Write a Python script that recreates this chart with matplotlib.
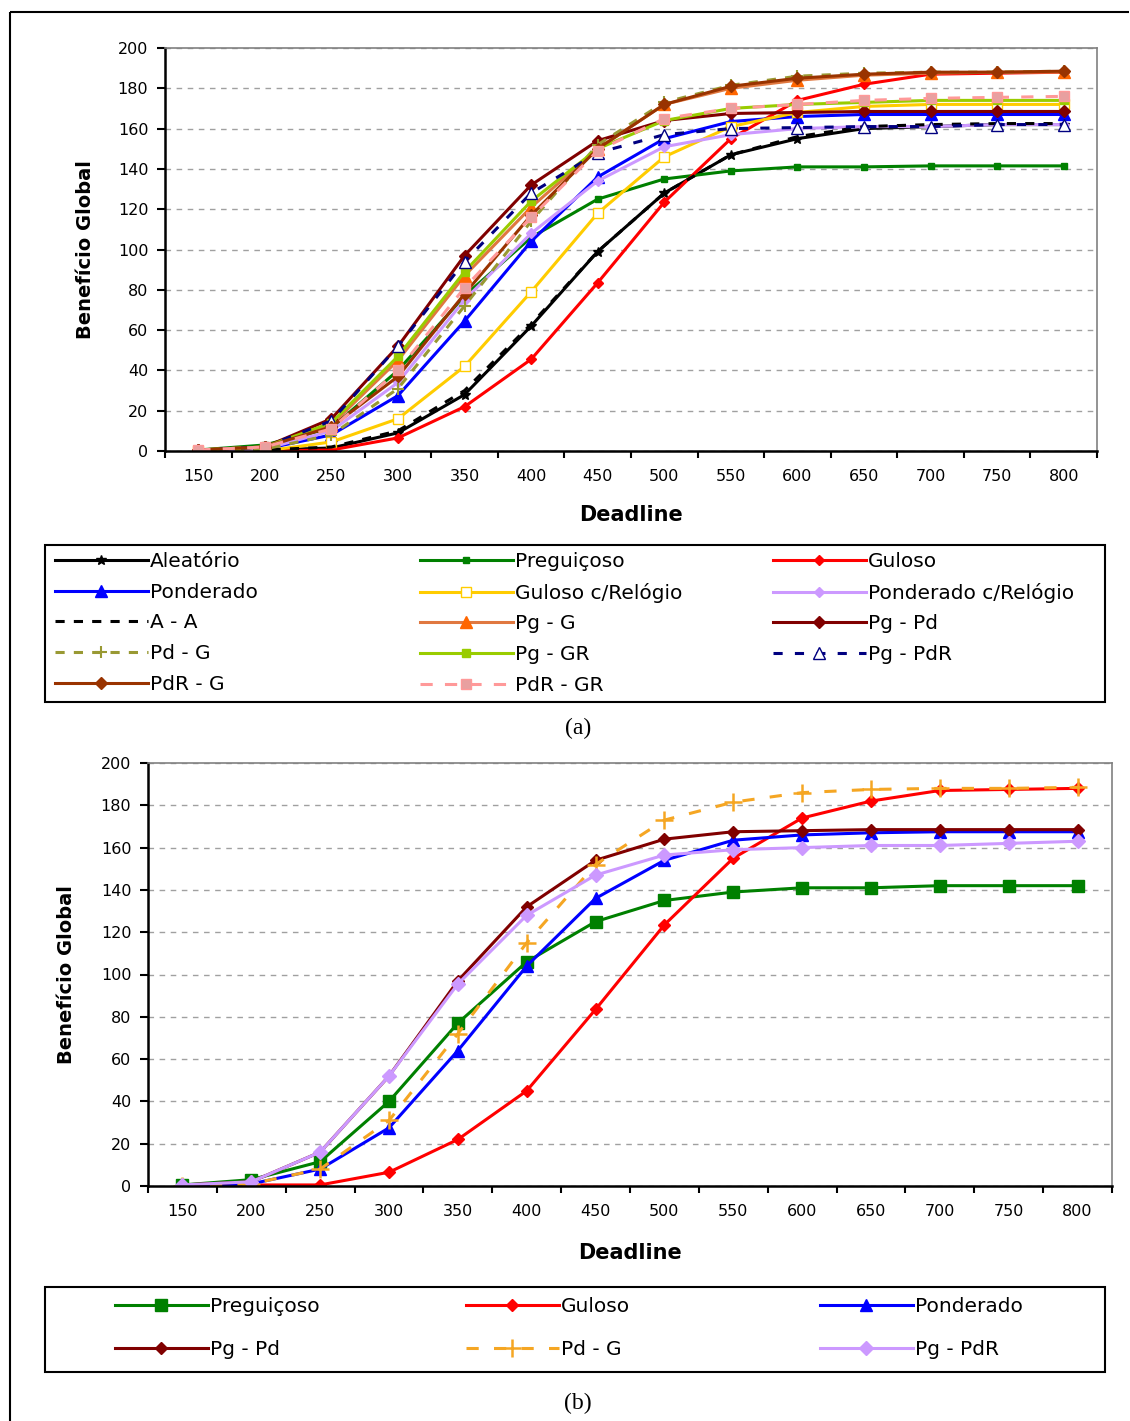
import matplotlib
matplotlib.use("Agg")
import matplotlib.pyplot as plt
import numpy as np
from matplotlib.lines import Line2D
from matplotlib.patches import Rectangle

W, H = 1130, 1421

deadlines = [150, 200, 250, 300, 350, 400, 450, 500, 550, 600, 650, 700, 750, 800]

# panel (a)
aleatorio = [0, 0.5, 1.5, 9, 28, 62, 99, 128, 147, 155, 160, 161, 162, 162]
preguicoso = [0.5, 3, 11.5, 40, 77, 106, 125, 135, 139, 141, 141, 141.5, 141.5, 141.5]
guloso = [0, 0, 0.5, 6.5, 22, 45.5, 83.5, 123.5, 155, 174, 182, 187, 187.5, 188]
ponderado = [0, 1, 8, 27.5, 64.5, 104, 136, 155, 163.5, 166, 167, 167, 167, 167]
guloso_rel = [0, 0, 4.5, 16, 42, 79, 118, 146, 161, 168, 171, 172, 172, 172]
ponderado_rel = [0, 1, 10, 34, 75, 108, 134, 151, 157, 160, 161, 161, 162, 162]
a_a = [0, 0.5, 2, 10, 30, 63, 99, 128, 147, 156, 161, 162, 162.5, 162.5]
pg_g = [0.5, 2, 13, 45, 87, 121, 150, 172, 180, 184, 186.5, 187.5, 188, 188]
pg_pd = [0.5, 2, 16, 52, 97, 132, 154, 164, 167.5, 168, 168.5, 168.5, 168.5, 168.5]
pd_g = [0, 1, 8, 31, 72, 114, 152, 173, 181.5, 186, 187.5, 188, 188, 188.5]
pg_gr = [0.5, 2, 14, 47, 89, 124, 150, 164, 170, 172, 173, 174, 174, 174]
pg_pdr = [0.5, 2, 15, 52, 94, 128, 148, 157, 160, 160.5, 161, 161, 162, 162]
pdr_g = [0.5, 2, 12, 37, 78, 117, 150, 172, 181, 185, 187, 188, 188, 188.5]
pdr_gr = [0.5, 2, 11, 40, 81, 116, 149, 165, 170, 172, 174, 175, 175.5, 176]

# panel (b)
b_preguicoso = [0.5, 3, 11.5, 40, 77, 106, 125, 135, 139, 141, 141, 142, 142, 142]
b_guloso = [0, 0.5, 0.5, 6.5, 22, 45, 83.5, 123.5, 155, 174, 182, 187, 187.5, 188]
b_ponderado = [0, 1, 8, 27.5, 64, 104, 136, 154, 163.5, 166, 167, 167.5, 167.5, 167.5]
b_pg_pd = [0.5, 2, 16, 52, 97, 132, 154, 164, 167.5, 168, 168.5, 168.5, 168.5, 168.5]
b_pd_g = [0, 1, 8, 31, 72, 115, 152, 173, 181.5, 186, 187.5, 188, 188, 188.5]
b_pg_pdr = [0.5, 2, 16, 52, 95.5, 128, 147, 156.5, 159, 160, 161, 161, 162, 163]

x = np.arange(len(deadlines))

plt.rcParams['font.family'] = 'DejaVu Sans'
fig = plt.figure(figsize=(W / 100, H / 100), dpi=100)


def fx(px):
    return px / W


def fy(py):
    return 1 - py / H


def style_axes(ax):
    ax.set_xlim(-0.5, len(deadlines) - 0.5)
    ax.set_ylim(0, 200)
    ax.set_yticks(np.arange(0, 201, 20))
    ax.set_xticks(x)
    ax.set_xticklabels([str(d) for d in deadlines])
    ax.set_xticks(np.arange(-0.5, len(deadlines), 1), minor=True)
    ax.tick_params(axis='x', which='major', length=0, pad=13, labelsize=11.5)
    ax.tick_params(axis='x', which='minor', length=5, width=1.5, direction='out')
    ax.tick_params(axis='y', length=6, width=1.5, direction='out', pad=6, labelsize=11.5)
    ax.yaxis.grid(True, linestyle=(0, (4, 4)), color='#a0a0a0', lw=1)
    ax.set_axisbelow(True)
    for s in ['left', 'bottom']:
        ax.spines[s].set_linewidth(1.8)
        ax.spines[s].set_color('black')
    for s in ['top', 'right']:
        ax.spines[s].set_linewidth(1.2)
        ax.spines[s].set_color('#808080')
    ax.set_xlabel('Deadline', fontsize=15, fontweight='bold')
    ax.set_ylabel('Benefício Global', fontsize=14, fontweight='bold')
    ax.xaxis.set_label_coords(0.5, -0.135)
    ax.yaxis.set_label_coords(-0.075, 0.5)


def column_legends(handles_cols, starts, top, spacing):
    for hs, xs in zip(handles_cols, starts):
        fig.legend(handles=hs, loc='upper left', bbox_to_anchor=(fx(xs), fy(top)),
                   frameon=False, borderpad=0, borderaxespad=0, handlelength=4.6,
                   handletextpad=0.1, labelspacing=spacing, fontsize=14.5,
                   numpoints=1)


# ---------- panel (a) ----------
ax1 = fig.add_axes([fx(165), fy(451), fx(1097 - 165), (451 - 48) / H])
series_a = [
    (aleatorio, 'Aleatório', dict(color='black', ls='-', marker='*', ms=7)),
    (preguicoso, 'Preguiçoso', dict(color='#008000', ls='-', marker='s', ms=5)),
    (guloso, 'Guloso', dict(color='#ff0000', ls='-', marker='D', ms=5.5)),
    (ponderado, 'Ponderado', dict(color='#0000ff', ls='-', marker='^', ms=8)),
    (guloso_rel, 'Guloso c/Relógio', dict(color='#ffcc00', ls='-', marker='s', ms=7, mfc='white')),
    (ponderado_rel, 'Ponderado c/Relógio', dict(color='#cc99ff', ls='-', marker='D', ms=5)),
    (a_a, 'A - A', dict(color='black', ls=(0, (3, 3)), marker=None)),
    (pg_g, 'Pg - G', dict(color='#e07840', ls='-', marker='^', ms=8, mfc='#ff6600', mec='#ff6600')),
    (pg_pd, 'Pg - Pd', dict(color='#800000', ls='-', marker='D', ms=6)),
    (pd_g, 'Pd - G', dict(color='#999933', ls=(0, (3, 3)), marker='+', ms=8, mew=1.5)),
    (pg_gr, 'Pg - GR', dict(color='#99cc00', ls='-', marker='s', ms=6)),
    (pg_pdr, 'Pg - PdR', dict(color='#000080', ls=(0, (3, 4)), marker='^', ms=8, mfc='white', mec='#000080')),
    (pdr_g, 'PdR - G', dict(color='#993300', ls='-', marker='D', ms=6)),
    (pdr_gr, 'PdR - GR', dict(color='#ff9999', ls=(0, (4, 4)), marker='s', ms=7, mfc='#e8a0a0')),
]
handles_a = []
for vals, label, kw in series_a:
    h, = ax1.plot(x, vals, lw=2.2, label=label, **kw)
    handles_a.append(h)
style_axes(ax1)

fig.add_artist(Rectangle((fx(45), fy(702)), fx(1105 - 45), (702 - 545) / H,
                         transform=fig.transFigure, fill=False, ec='black', lw=1.5))
column_legends([handles_a[0::3], handles_a[1::3], handles_a[2::3]],
               [55, 420, 773], 552, 0.58)
fig.text(fx(578), fy(728), '(a)', ha='center', va='center',
         family='Liberation Serif', fontsize=17)

# ---------- panel (b) ----------
ax2 = fig.add_axes([fx(148), fy(1186), fx(1112 - 148), (1186 - 763) / H])
series_b = [
    (b_preguicoso, 'Preguiçoso', dict(color='#008000', ls='-', marker='s', ms=8)),
    (b_guloso, 'Guloso', dict(color='#ff0000', ls='-', marker='D', ms=6)),
    (b_ponderado, 'Ponderado', dict(color='#0000ff', ls='-', marker='^', ms=9)),
    (b_pg_pd, 'Pg - Pd', dict(color='#800000', ls='-', marker='D', ms=6)),
    (b_pd_g, 'Pd - G', dict(color='#f5a623', ls=(0, (4, 5)), marker='+', ms=13, mew=1.8)),
    (b_pg_pdr, 'Pg - PdR', dict(color='#cc99ff', ls='-', marker='D', ms=7)),
]
handles_b = []
for vals, label, kw in series_b:
    h, = ax2.plot(x, vals, lw=2.2, label=label, **kw)
    handles_b.append(h)
style_axes(ax2)

fig.add_artist(Rectangle((fx(45), fy(1372)), fx(1105 - 45), (1372 - 1287) / H,
                         transform=fig.transFigure, fill=False, ec='black', lw=1.5))
column_legends([handles_b[0::3], handles_b[1::3], handles_b[2::3]],
               [115, 466, 820], 1297, 1.18)
fig.text(fx(578), fy(1403), '(b)', ha='center', va='center',
         family='Liberation Serif', fontsize=17)

# outer frame (top and left edges visible)
fig.add_artist(Line2D([fx(10), fx(10)], [0, fy(12)], transform=fig.transFigure,
                      color='black', lw=1.5, solid_capstyle='butt'))
fig.add_artist(Line2D([fx(10), fx(1129)], [fy(12), fy(12)], transform=fig.transFigure,
                      color='black', lw=1.5, solid_capstyle='butt'))

fig.savefig('out.png', dpi=100)
